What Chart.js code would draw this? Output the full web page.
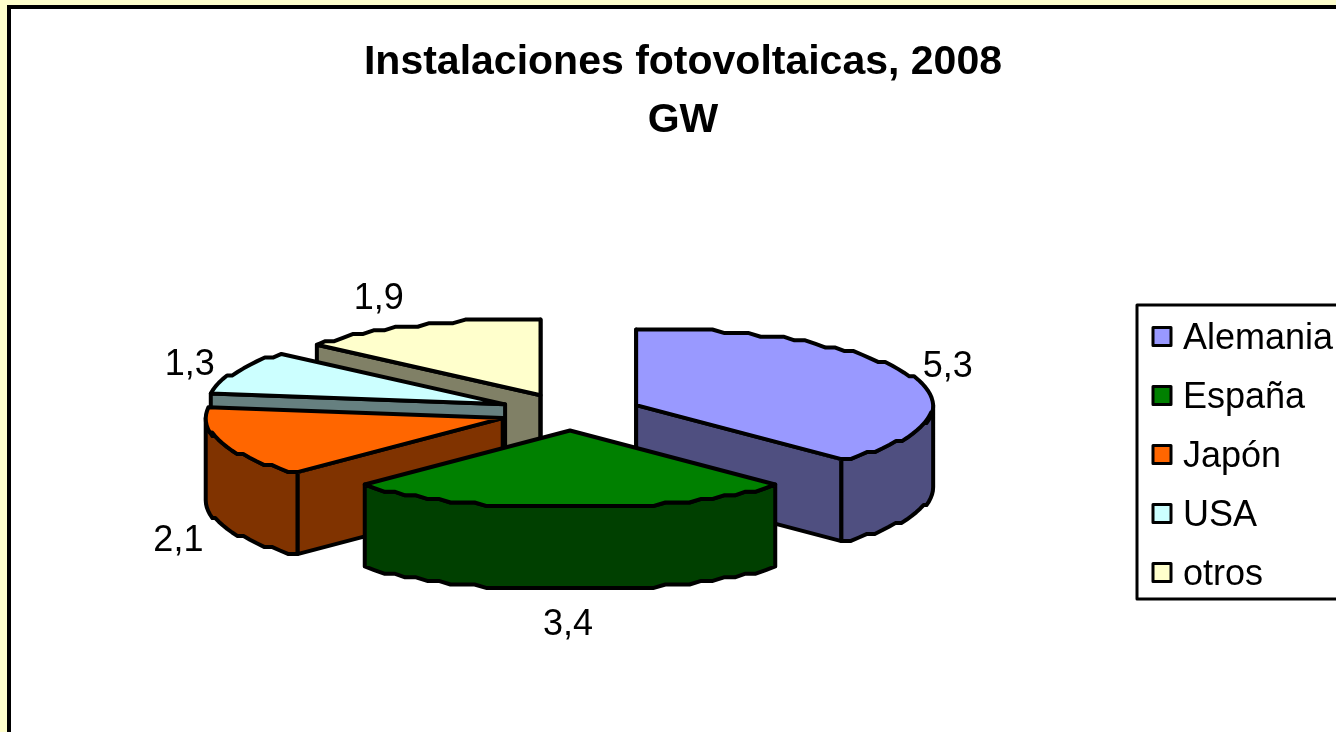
<!DOCTYPE html>
<html>
<head>
<meta charset="utf-8">
<title>Instalaciones fotovoltaicas, 2008</title>
<script src="https://cdn.jsdelivr.net/npm/chart.js@4"></script>
<style>
  body { margin: 0; background: #fff; }
  canvas { display: block; }
</style>
</head>
<body>
<canvas id="myChart" width="1336" height="732"></canvas>
<script>
const titleLines = ['Instalaciones fotovoltaicas, 2008', 'GW'];
const categories = ['Alemania', 'España', 'Japón', 'USA', 'otros'];
const gigawatts = [5.3, 3.4, 2.1, 1.3, 1.9];

const topColors = ['#9999FF', '#008000', '#FF6600', '#CCFFFF', '#FFFFCC'];
const sideColors = ['#4F4F80', '#004000', '#803300', '#668080', '#808066'];

// back to front, so the nearer slices cover the farther ones
const drawOrder = [4, 3, 2, 0, 1];
// label distance from the rim point in the middle of each slice
const labelShiftX = [36, -2, -44, -45, -39];
const labelShiftY = [-9, 37, 16, -7, -28];

const FONT = "'Liberation Sans', Arial, sans-serif";
const PIE_X = 570, PIE_Y = 412;  // centre of the tilted pie
const RX = 297, RY = 77;         // the ellipse of the top face
const DEPTH = 82;
const EXPLODE = 0.24;
const LINE = 4;
const STAIR = 3.6;               // the rim of the original is coarse, not a clean curve

function sliceCentre(arc) {
	const mid = (arc.startAngle + arc.endAngle) / 2;
	return {
		x: PIE_X + EXPLODE * RX * Math.cos(mid),
		y: PIE_Y + EXPLODE * RY * Math.sin(mid)
	};
}

function rimPoint(c, angle) {
	return {
		x: c.x + RX * Math.cos(angle),
		y: c.y + Math.round(RY * Math.sin(angle) / STAIR) * STAIR
	};
}

function rimPoints(c, from, to) {
	let pts = [];
	let n = Math.max(1, Math.round((to - from) / (2.5 * Math.PI / 180)));
	for (let k = 0; k <= n; k++) {
		pts.push(rimPoint(c, from + (to - from) * k / n));
	}
	return pts;
}

function paint(ctx, color) {
	ctx.closePath();
	ctx.fillStyle = color;
	ctx.fill();
	ctx.lineWidth = LINE;
	ctx.lineJoin = 'round';
	ctx.strokeStyle = '#000';
	ctx.stroke();
}

function drawCutFace(ctx, c, angle, color) {
	let p = rimPoint(c, angle);
	ctx.beginPath();
	ctx.moveTo(c.x, c.y);
	ctx.lineTo(p.x, p.y);
	ctx.lineTo(p.x, p.y + DEPTH);
	ctx.lineTo(c.x, c.y + DEPTH);
	paint(ctx, color);
}

function drawSlice(ctx, arc, i) {
	const c = sliceCentre(arc);
	const start = arc.startAngle, end = arc.endAngle;

	// cut faces, only the ones turned towards the viewer
	if (-Math.sin(start + Math.PI / 2) > -1e-6) drawCutFace(ctx, c, start, sideColors[i]);
	if (Math.sin(end + Math.PI / 2) > -1e-6) drawCutFace(ctx, c, end, sideColors[i]);

	// outer wall: the part of the rim between 0 and PI is at the front
	let a0 = Math.max(start, 0), a1 = Math.min(end, Math.PI);
	if (a1 > a0) {
		let pts = rimPoints(c, a0, a1);
		ctx.beginPath();
		pts.forEach(function(p, k) {
			if (k == 0) ctx.moveTo(p.x, p.y); else ctx.lineTo(p.x, p.y);
		});
		pts.reverse().forEach(function(p) {
			ctx.lineTo(p.x, p.y + DEPTH);
		});
		paint(ctx, sideColors[i]);
	}

	// top face: the library's arc, squeezed to the ellipse
	ctx.save();
	ctx.translate(c.x, c.y);
	ctx.scale(RX / arc.outerRadius, RY / arc.outerRadius);
	ctx.translate(-arc.x, -arc.y);
	arc.draw(ctx);
	ctx.restore();

	// outline afterwards, so the line width is not squeezed too
	ctx.beginPath();
	ctx.moveTo(c.x, c.y);
	rimPoints(c, start, end).forEach(function(p) {
		ctx.lineTo(p.x, p.y);
	});
	ctx.closePath();
	ctx.lineWidth = LINE;
	ctx.lineJoin = 'round';
	ctx.strokeStyle = '#000';
	ctx.stroke();
}

function drawValueLabels(ctx, arcs) {
	ctx.font = '36px ' + FONT;
	ctx.fillStyle = '#000';
	ctx.textAlign = 'center';
	ctx.textBaseline = 'middle';
	arcs.forEach(function(arc, i) {
		const c = sliceCentre(arc);
		const mid = (arc.startAngle + arc.endAngle) / 2;
		let p = rimPoint(c, mid);
		// the label of a front slice sits under the wall
		let wall = Math.sin(mid) > 0 ? DEPTH : 0;
		let text = String(gigawatts[i]).replace('.', ',');
		ctx.fillText(text, p.x + labelShiftX[i], p.y + wall + labelShiftY[i]);
	});
}

function drawLegendBox(ctx) {
	ctx.lineWidth = 3;
	ctx.strokeStyle = '#000';
	ctx.strokeRect(1137, 305, 210, 294);
	ctx.font = '36px ' + FONT;
	ctx.textAlign = 'left';
	ctx.textBaseline = 'middle';
	categories.forEach(function(name, i) {
		let y = 338 + i * 59;
		ctx.fillStyle = topColors[i];
		ctx.fillRect(1153, y - 10.5, 18, 18);
		ctx.strokeRect(1153, y - 10.5, 18, 18);
		ctx.fillStyle = '#000';
		ctx.fillText(name, 1183, y + 1);
	});
}

const pie3d = {
	id: 'pie3d',
	beforeDraw: function(chart) {
		const ctx = chart.ctx;
		ctx.save();
		ctx.fillStyle = '#FFFFCC';
		ctx.fillRect(0, 0, chart.width, chart.height);
		ctx.fillStyle = '#fff';
		ctx.fillRect(9, 7, chart.width, chart.height);
		ctx.lineWidth = 4;
		ctx.strokeStyle = '#000';
		ctx.strokeRect(9, 7, chart.width + 20, chart.height + 20);
		ctx.restore();
	},
	beforeDatasetsDraw: function(chart) {
		const ctx = chart.ctx;
		const arcs = chart.getDatasetMeta(0).data;
		ctx.save();
		drawOrder.forEach(function(i) {
			drawSlice(ctx, arcs[i], i);
		});
		drawValueLabels(ctx, arcs);
		drawLegendBox(ctx);
		ctx.restore();
		return false;
	}
};

const myChart = new Chart(document.getElementById('myChart'), {
	type: 'pie',
	data: {
		labels: categories,
		datasets: [{
			data: gigawatts,
			backgroundColor: topColors,
			borderWidth: 0
		}]
	},
	options: {
		responsive: false,
		animation: false,
		layout: { padding: { left: 30, top: 0 } },
		plugins: {
			legend: { display: false },
			tooltip: { enabled: false },
			title: {
				display: true,
				text: titleLines,
				color: '#000',
				font: { family: FONT, size: 41, weight: 'bold', lineHeight: 1.41 },
				padding: { top: 34, bottom: 10 }
			}
		}
	},
	plugins: [pie3d]
});
</script>
</body>
</html>
